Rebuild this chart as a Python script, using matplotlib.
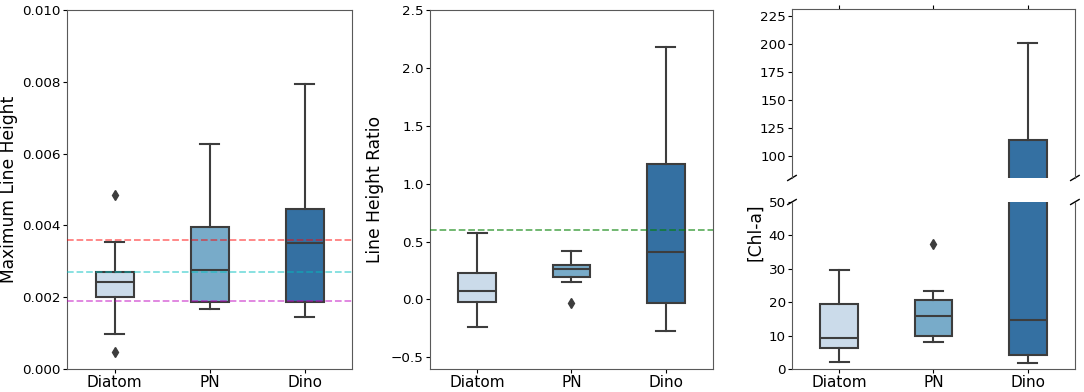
import matplotlib.pyplot as plt

groups = ['Diatom', 'PN', 'Dino']
colors = ['#cbdbea', '#78abc9', '#3470a2']

# box stats: whislo, q1, med, q3, whishi, fliers
height_stats = [
    (0.00097, 0.00201, 0.00243, 0.00271, 0.00355, [0.00485, 0.00048]),
    (0.00167, 0.00187, 0.00276, 0.00396, 0.00626, []),
    (0.00146, 0.00187, 0.00352, 0.00445, 0.00795, []),
]
ratio_stats = [
    (-0.236, -0.02, 0.069, 0.227, 0.577, []),
    (0.152, 0.19, 0.26, 0.295, 0.42, [-0.032]),
    (-0.273, -0.032, 0.413, 1.17, 2.18, []),
]
chl_stats = [
    (2.2, 6.4, 9.4, 19.4, 29.7, []),
    (8.1, 9.9, 15.9, 20.6, 23.3, [37.3]),
    (1.9, 4.1, 14.6, 113.8, 201.0, []),
]

height_lines = [(0.0036, 'r'), (0.0027, 'c'), (0.0019, 'm')]
ratio_lines = [(0.6, 'g')]

edge = '#3d3d3d'


def make_stats(rows):
    out = []
    for lo, q1, med, q3, hi, fl in rows:
        out.append(dict(whislo=lo, q1=q1, med=med, q3=q3, whishi=hi, fliers=fl))
    return out


def draw_boxes(ax, rows):
    bp = ax.bxp(make_stats(rows), positions=range(len(groups)), widths=0.4,
                capwidths=0.2, patch_artist=True, showfliers=True,
                boxprops=dict(edgecolor=edge, linewidth=1.5),
                whiskerprops=dict(color=edge, linewidth=1.5),
                capprops=dict(color=edge, linewidth=1.5),
                medianprops=dict(color=edge, linewidth=1.5),
                flierprops=dict(marker='d', markerfacecolor=edge,
                                markeredgecolor=edge, markersize=5))
    for patch, c in zip(bp['boxes'], colors):
        patch.set_facecolor(c)
    ax.set_xlim(-0.5, len(groups) - 0.5)
    ax.set_xticks(range(len(groups)))
    ax.set_xticklabels(groups)
    ax.tick_params(length=3, pad=1.5)
    ax.tick_params(axis='x', labelsize=11)
    ax.tick_params(axis='y', labelsize=9.7)
    for s in ax.spines.values():
        s.set_color('0.35')


fig = plt.figure(figsize=(10.84, 3.92), dpi=100)

ax1 = fig.add_axes([0.0618, 0.0587, 0.263, 0.916])
draw_boxes(ax1, height_stats)
for y, c in height_lines:
    ax1.axhline(y, color=c, ls='--', alpha=0.5, lw=1.3, zorder=5)
ax1.set_ylim(0, 0.010)
ax1.set_yticks([0, 0.002, 0.004, 0.006, 0.008, 0.010])
ax1.set_yticklabels(['0.000', '0.002', '0.004', '0.006', '0.008', '0.010'])
ax1.set_ylabel('Maximum Line Height', fontsize=12.3, labelpad=3)

ax2 = fig.add_axes([0.3967, 0.0587, 0.261, 0.916])
draw_boxes(ax2, ratio_stats)
for y, c in ratio_lines:
    ax2.axhline(y, color=c, ls='--', alpha=0.6, lw=1.3, zorder=5)
ax2.set_ylim(-0.6, 2.5)
ax2.set_yticks([-0.5, 0, 0.5, 1.0, 1.5, 2.0, 2.5])
ax2.set_ylabel('Line Height Ratio', fontsize=12.3, labelpad=5)

# broken y axis for chl-a
ax3t = fig.add_axes([0.7306, 0.546, 0.261, 0.431])
ax3b = fig.add_axes([0.7306, 0.0587, 0.261, 0.426])
draw_boxes(ax3t, chl_stats)
draw_boxes(ax3b, chl_stats)
ax3t.set_ylim(80, 231)
ax3t.set_yticks([100, 125, 150, 175, 200, 225])
ax3b.set_ylim(0, 50)
ax3b.set_yticks([0, 10, 20, 30, 40, 50])
ax3t.spines['bottom'].set_visible(False)
ax3b.spines['top'].set_visible(False)
ax3t.xaxis.tick_top()
ax3t.tick_params(labeltop=False)
ax3b.xaxis.tick_bottom()

d = 0.015
kw = dict(transform=ax3t.transAxes, color='k', clip_on=False, lw=1)
ax3t.plot((-d, d), (-d, d), **kw)
ax3t.plot((1 - d, 1 + d), (-d, d), **kw)
kw.update(transform=ax3b.transAxes)
ax3b.plot((-d, d), (1 - d, 1 + d), **kw)
ax3b.plot((1 - d, 1 + d), (1 - d, 1 + d), **kw)

fig.text(755 / 1084, 1 - 232 / 392, '[Chl-a]', rotation=90, fontsize=12.3,
         ha='center', va='center')

fig.savefig('out.png', dpi=100)
